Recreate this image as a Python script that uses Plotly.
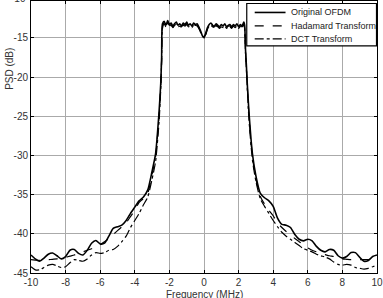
import plotly.graph_objects as go

# Frequency grid (MHz)
freq_left = [-10, -9.75, -9.5, -9.25, -9, -8.75, -8.5, -8.25, -8, -7.75, -7.5, -7.25, -7,
             -6.75, -6.5, -6.25, -6, -5.75, -5.5, -5.25, -5, -4.75, -4.5, -4.25, -4,
             -3.75, -3.5, -3.25, -3, -2.8, -2.6, -2.5, -2.45, -2.4]
freq_band = [-2.3, -2.2, -2.1, -2.0, -1.9, -1.8, -1.7, -1.6, -1.5, -1.4, -1.3, -1.2, -1.1,
             -1.0, -0.9, -0.8, -0.7, -0.6, -0.5, -0.4, -0.3, -0.2, -0.1, 0.0, 0.1, 0.2,
             0.3, 0.4, 0.5, 0.6, 0.7, 0.8, 0.9, 1.0, 1.1, 1.2, 1.3, 1.4, 1.5, 1.6, 1.7,
             1.8, 1.9, 2.0, 2.1, 2.2, 2.3]
freq_right = [2.35, 2.4, 2.45, 2.5, 2.6, 2.8, 3, 3.25, 3.5, 3.75, 4, 4.25, 4.5, 4.75, 5,
              5.25, 5.5, 5.75, 6, 6.25, 6.5, 6.75, 7, 7.25, 7.5, 7.75, 8, 8.25, 8.5,
              8.75, 9, 9.25, 9.5, 9.75, 10]
freq = freq_left + freq_band + freq_right

# PSD (dB)
ofdm_left = [-42.7, -43.2, -43.5, -43.1, -42.6, -42.45, -42.8, -43.2, -42.9, -42.1, -42.0,
             -42.5, -42.7, -42.1, -41.2, -40.85, -41.3, -41.2, -40.3, -39.3, -39.1, -38.9,
             -38.3, -37.4, -36.6, -35.8, -35.3, -34.4, -32.0, -29.8, -24.5, -20.8, -17.5,
             -13.2]
ofdm_band = [-12.9, -13.4, -12.8, -13.3, -13.1, -13.5, -13.2, -13.0, -13.4, -13.2, -13.5,
             -13.1, -13.3, -13.0, -13.4, -13.2, -13.5, -13.1, -13.3, -13.2, -13.6, -14.1,
             -14.7, -14.9, -14.4, -13.7, -13.3, -13.1, -13.4, -13.5, -13.2, -13.4, -13.6,
             -13.3, -13.5, -13.2, -13.6, -13.4, -13.3, -13.6, -13.3, -13.5, -13.2, -13.6,
             -13.3, -13.5, -13.0]
ofdm_right = [-13.4, -16.5, -18.5, -20.8, -24.5, -29.8, -32.6, -34.8, -35.4, -35.8, -36.5,
              -38.0, -38.8, -38.9, -39.2, -40.1, -40.7, -40.9, -40.7, -40.9, -41.6, -42.1,
              -42.3, -42.0, -42.1, -42.8, -43.1, -42.9, -42.4, -42.4, -43.0, -43.5, -43.4,
              -42.9, -42.7]

hadamard_left = [-43.3, -43.35, -43.4, -43.35, -43.3, -43.25, -43.2, -43.1, -43.0, -42.85,
                 -42.7, -42.5, -42.3, -42.1, -41.9, -41.65, -41.4, -41.0, -40.6, -40.1,
                 -39.6, -39.1, -38.6, -37.8, -37.0, -36.0, -35.5, -34.8, -32.4, -30.2,
                 -25.0, -21.0, -17.8, -13.5]
hadamard_band = [-13.1, -13.5, -13.0, -13.4, -13.3, -13.6, -13.3, -13.2, -13.5, -13.4, -13.6,
                 -13.3, -13.4, -13.2, -13.5, -13.4, -13.6, -13.3, -13.4, -13.4, -13.7, -14.2,
                 -14.8, -15.0, -14.5, -13.8, -13.4, -13.3, -13.5, -13.6, -13.4, -13.5, -13.7,
                 -13.5, -13.6, -13.4, -13.7, -13.5, -13.5, -13.7, -13.4, -13.6, -13.4, -13.7,
                 -13.5, -13.6, -13.2]
hadamard_right = [-13.6, -16.8, -18.8, -21.0, -25.0, -30.2, -33.0, -35.2, -36.2, -37.0,
                  -37.7, -38.6, -39.2, -39.7, -40.1, -40.6, -41.0, -41.4, -41.8, -42.1,
                  -42.3, -42.5, -42.65, -42.8, -42.9, -43.05, -43.2, -43.25, -43.3, -43.3,
                  -43.3, -43.3, -43.3, -43.3, -43.3]

dct_left = [-44.2, -44.6, -44.6, -44.3, -44.0, -43.9, -44.1, -44.3, -44.2, -43.7, -43.3,
            -43.4, -43.5, -43.2, -42.7, -42.4, -42.5, -42.4, -42.1, -42.0, -41.6, -41.0,
            -40.3, -39.2, -38.3, -37.4, -36.3, -35.3, -33.0, -30.8, -25.8, -21.5, -18.0,
            -13.8]
dct_band = [-13.2, -13.6, -13.1, -13.5, -13.4, -13.7, -13.4, -13.3, -13.6, -13.5, -13.7,
            -13.4, -13.5, -13.3, -13.6, -13.5, -13.7, -13.4, -13.5, -13.5, -13.8, -14.3,
            -14.8, -15.0, -14.6, -13.9, -13.5, -13.4, -13.6, -13.7, -13.5, -13.6, -13.8,
            -13.6, -13.7, -13.5, -13.8, -13.6, -13.6, -13.8, -13.5, -13.7, -13.5, -13.8,
            -13.6, -13.7, -13.3]
dct_right = [-13.8, -17.0, -19.0, -21.3, -25.5, -30.6, -33.3, -35.5, -36.5, -37.4, -38.3,
             -39.1, -39.8, -40.3, -40.7, -41.1, -41.5, -41.9, -42.1, -42.3, -42.6, -42.8,
             -42.95, -43.2, -43.6, -43.9, -44.0, -43.9, -44.0, -44.3, -44.4, -44.5, -44.4,
             -44.2, -44.0]

series_names = ["Original OFDM", "Hadamard Transform", "DCT Transform"]
series_values = [ofdm_left + ofdm_band + ofdm_right,
                 hadamard_left + hadamard_band + hadamard_right,
                 dct_left + dct_band + dct_right]
series_dash = ["solid", "dash", "dashdot"]
series_width = [1.6, 1.2, 1.2]

x_ticks = [-10, -8, -6, -4, -2, 0, 2, 4, 6, 8, 10]
y_ticks = [-45, -40, -35, -30, -25, -20, -15]

W, H = 383, 298
ML, MR, MT, MB = 31, 4, 0, 25
PW, PH = W - ML - MR, H - MT - MB


def px(xp):
    return (xp - ML) / PW


def py(yp):
    return (H - MB - yp) / PH


fig = go.Figure()
for name, vals, dash, w in zip(series_names, series_values, series_dash, series_width):
    fig.add_trace(go.Scatter(x=freq, y=vals, mode="lines", name=name, showlegend=False,
                             line=dict(color="black", width=w, dash=dash,
                                       shape="spline", smoothing=0.6)))

font = dict(family="Liberation Sans, Arial, sans-serif", size=10, color="#333333")
axis_common = dict(showline=True, linecolor="black", linewidth=1, mirror="ticks",
                   ticks="inside", ticklen=3, tickcolor="black",
                   showgrid=True, gridcolor="#aaaaaa", gridwidth=1,
                   zeroline=False, tickfont=font, ticklabeloverflow="allow")

fig.update_layout(
    width=W, height=H,
    margin=dict(l=ML, r=MR, t=MT, b=MB),
    paper_bgcolor="white", plot_bgcolor="white",
    xaxis=dict(range=[-10, 10], tickvals=x_ticks, ticktext=[str(v) for v in x_ticks],
               **axis_common),
    yaxis=dict(range=[-45, -10.3], tickvals=y_ticks, ticktext=[str(v) for v in y_ticks],
               **axis_common),
)

# partially visible top tick label
fig.add_annotation(x=0, xref="paper", xanchor="right", xshift=-3, y=1, yref="paper",
                   yanchor="middle", yshift=2.3, text="-10", showarrow=False, font=font)
# axis titles
fig.add_annotation(x=0.5, xref="paper", y=py(295), yref="paper", xanchor="center",
                   yanchor="middle", text="Frequency (MHz)", showarrow=False, font=font)
fig.add_annotation(x=px(10), xref="paper", y=py(68), yref="paper", text="PSD (dB)",
                   xanchor="center", yanchor="middle",
                   showarrow=False, font=font, textangle=-90)

# legend box (drawn to match the original's compact MATLAB legend)
fig.add_shape(type="rect", xref="paper", yref="paper",
              x0=px(248), x1=px(378.5), y0=py(45), y1=py(2.5),
              line=dict(color="black", width=1.2), fillcolor="white", layer="above")
leg_rows = [11.5, 25, 38]
leg_font = dict(family="Liberation Sans, Arial, sans-serif", size=9, color="#222222")
for name, dash, w, row in zip(series_names, series_dash, series_width, leg_rows):
    fig.add_shape(type="line", xref="paper", yref="paper",
                  x0=px(256), x1=px(287), y0=py(row), y1=py(row),
                  line=dict(color="black", width=w, dash=dash), layer="above")
    fig.add_annotation(x=px(290), xref="paper", y=py(row), yref="paper",
                       xanchor="left", yanchor="middle", text=name,
                       showarrow=False, font=leg_font)

fig.write_html("out.html")
